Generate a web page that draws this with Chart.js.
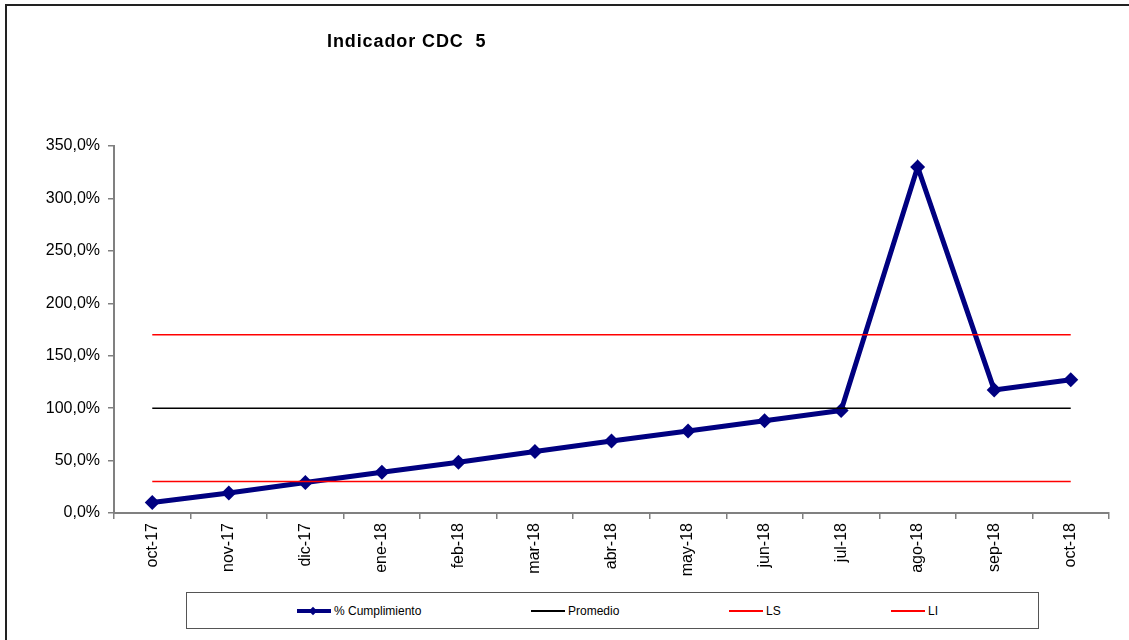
<!DOCTYPE html>
<html>
<head>
<meta charset="utf-8">
<script src="https://cdn.jsdelivr.net/npm/chart.js@4.4.0/dist/chart.umd.min.js"></script>
<style>
  html, body { margin:0; padding:0; background:#fff; }
  #wrap { position:relative; width:1129px; height:640px; overflow:hidden; font-family:"Liberation Sans", Arial, sans-serif; }
  #frame { position:absolute; left:5px; top:4px; width:1200px; height:700px; border-top:2px solid #222; border-left:2px solid #222; }
  #title { position:absolute; left:327px; top:32px; font-size:18px; line-height:18px; font-weight:bold; color:#000; white-space:pre; letter-spacing:0.9px; }
  canvas { position:absolute; left:0; top:0; }
  #legend { position:absolute; left:186px; top:592px; width:853px; height:37px; border:1.5px solid #555; box-sizing:border-box; background:#fff; }
  .item { position:absolute; top:0; height:100%; display:flex; align-items:center; font-size:12px; color:#000; white-space:nowrap; }
  .sw { position:relative; width:34px; margin-right:3px; }
  .sw .ln { position:absolute; left:0; right:0; top:50%; }
  .sw .dm { position:absolute; left:13px; top:50%; width:6px; height:6px; margin-top:-3px; background:#000080; transform:rotate(45deg); }
</style>
</head>
<body>
<div id="wrap">
  <div id="frame"></div>
  <canvas id="c" width="1129" height="640"></canvas>
  <div id="title">Indicador CDC  5</div>
  <div id="legend"></div>
</div>
<script>
const categories = ["oct-17","nov-17","dic-17","ene-18","feb-18","mar-18","abr-18","may-18","jun-18","jul-18","ago-18","sep-18","oct-18"];
const cumplimiento = [10, 19, 29, 38.8, 48.3, 58.7, 68.6, 78.2, 88, 97.8, 330, 117.4, 127];
const promedio = [100,100,100,100,100,100,100,100,100,100,100,100,100];
const ls = [170,170,170,170,170,170,170,170,170,170,170,170,170];
const li = [30,30,30,30,30,30,30,30,30,30,30,30,30];
const seriesNames = ["% Cumplimiento", "Promedio", "LS", "LI"];
const yTicks = [0, 50, 100, 150, 200, 250, 300, 350];

Chart.defaults.font.family = '"Liberation Sans", Arial, sans-serif';
Chart.defaults.color = '#000';

new Chart(document.getElementById('c'), {
  type: 'line',
  data: {
    labels: categories,
    datasets: [
      { label: seriesNames[1], data: promedio, borderColor: '#000000', borderWidth: 1.5, pointRadius: 0, pointHoverRadius: 0, fill: false },
      { label: seriesNames[2], data: ls, borderColor: '#ff0000', borderWidth: 1.5, pointRadius: 0, pointHoverRadius: 0, fill: false },
      { label: seriesNames[3], data: li, borderColor: '#ff0000', borderWidth: 1.5, pointRadius: 0, pointHoverRadius: 0, fill: false },
      { label: seriesNames[0], data: cumplimiento, borderColor: '#000080', backgroundColor: '#000080', borderWidth: 5,
        pointStyle: 'rectRot', pointRadius: 7.5, pointHoverRadius: 7.5, pointBorderWidth: 0, fill: false, tension: 0 }
    ]
  },
  options: {
    responsive: false,
    animation: false,
    layout: { padding: { top: 146, right: 20, left: 0, bottom: 0 } },
    plugins: { legend: { display: false }, title: { display: false }, tooltip: { enabled: false } },
    scales: {
      x: {
        offset: true,
        grid: { offset: true, drawOnChartArea: false, drawTicks: true, tickLength: 6, color: '#808080', lineWidth: 1.5 },
        border: { color: '#808080', width: 2 },
        ticks: { autoSkip: false, minRotation: 90, maxRotation: 90, padding: 4, font: { size: 16 }, color: '#000' },
        afterFit: (s) => { s.height = 127; }
      },
      y: {
        min: 0, max: 350,
        afterBuildTicks: (s) => { s.ticks = yTicks.map(v => ({ value: v })); },
        grid: { drawOnChartArea: false, drawTicks: true, tickLength: 6, color: '#808080', lineWidth: 1.5 },
        border: { color: '#808080', width: 2 },
        ticks: { padding: 8, font: { size: 16 }, color: '#000',
          callback: (v) => v.toFixed(1).replace('.', ',') + '%' },
        afterFit: (s) => { s.width = 114; }
      }
    }
  }
});

// legend (HTML)
const legendItems = [
  { name: seriesNames[0], left: 110, color: '#000080', w: 4, diamond: true },
  { name: seriesNames[1], left: 344, color: '#000000', w: 2 },
  { name: seriesNames[2], left: 542, color: '#ff0000', w: 2 },
  { name: seriesNames[3], left: 704, color: '#ff0000', w: 2 }
];
const lg = document.getElementById('legend');
legendItems.forEach(it => {
  const d = document.createElement('div');
  d.className = 'item';
  d.style.left = it.left + 'px';
  const sw = document.createElement('span');
  sw.className = 'sw';
  sw.style.height = '12px';
  const ln = document.createElement('span');
  ln.className = 'ln';
  ln.style.height = it.w + 'px';
  ln.style.marginTop = (-it.w / 2) + 'px';
  ln.style.background = it.color;
  sw.appendChild(ln);
  if (it.diamond) { const dm = document.createElement('span'); dm.className = 'dm'; sw.appendChild(dm); }
  d.appendChild(sw);
  const t = document.createElement('span');
  t.textContent = it.name;
  d.appendChild(t);
  lg.appendChild(d);
});
</script>
</body>
</html>
